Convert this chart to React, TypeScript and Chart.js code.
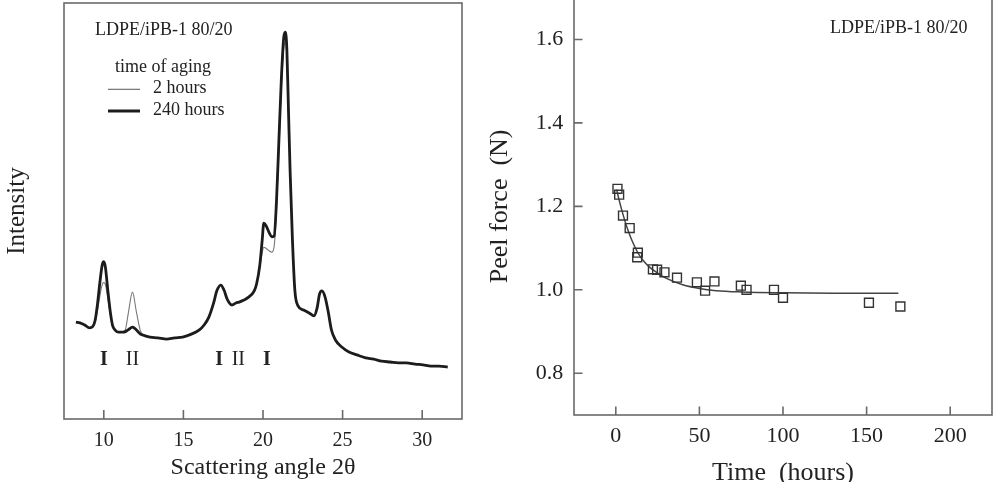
import React, { useEffect, useRef } from 'react';
import { Chart, registerables } from 'chart.js';

Chart.register(...registerables);

const SERIF = '"Liberation Serif", "DejaVu Serif", serif';
const INK = '#222';
const FRAME = '#6a6a6a';

// ---- Left panel: WAXS intensity vs scattering angle ----
const xrdAngle = [
  8.25, 8.5, 8.8, 9.1, 9.3, 9.45, 9.6, 9.75, 9.9, 10.0, 10.1, 10.25, 10.4, 10.55, 10.7, 10.9,
  11.2, 11.35, 11.55, 11.8, 12.05, 12.3, 12.6, 12.9, 13.4, 13.95, 14.45, 14.95, 15.5, 16.0,
  16.3, 16.6, 16.9, 17.1, 17.35, 17.55, 17.75, 18.05, 18.3, 18.5, 18.8, 19.1, 19.45, 19.6,
  19.8, 19.95, 20.05, 20.2, 20.4, 20.55, 20.7, 20.85, 21.0, 21.15, 21.3, 21.4, 21.5, 21.6,
  21.7, 21.85, 22.0, 22.2, 22.55, 22.9, 23.2, 23.4, 23.55, 23.7, 23.9, 24.1, 24.3, 24.55,
  24.95, 25.4, 25.9, 26.45, 26.95, 27.45, 28.0, 28.5, 29.0, 29.55, 30.05, 30.55, 31.05, 31.6,
];
const xrd240h = [
  23.3, 23.1, 22.6, 21.9, 22.2, 23.6, 27.5, 32.7, 37.0, 37.8, 36.5, 31.0, 26.0, 22.5, 21.4, 20.9,
  20.9, 21.0, 21.5, 22.1, 21.4, 20.4, 20.0, 19.7, 19.5, 19.2, 19.5, 19.7, 20.4, 21.4,
  22.6, 24.5, 27.9, 30.8, 32.2, 31.0, 28.8, 27.4, 27.9, 28.1, 28.6, 29.3, 30.8, 32.5,
  37.0, 43.0, 47.1, 46.4, 44.7, 43.8, 44.0, 52.6, 67.1, 81.5, 91.6, 93.0, 88.7, 74.3,
  59.9, 43.0, 31.0, 27.2, 26.2, 25.5, 24.8, 26.7, 30.0, 30.8, 29.3, 25.7, 21.4, 19.0,
  17.3, 16.1, 15.4, 14.7, 14.4, 13.9, 13.7, 13.5, 13.5, 13.2, 13.0, 12.7, 12.7, 12.5,
];
const xrd2h = [
  23.3, 23.1, 22.6, 21.9, 22.2, 23.3, 26.0, 29.5, 32.3, 32.8, 32.3, 29.0, 25.3, 22.4, 21.4, 20.9,
  20.9, 21.4, 25.7, 30.5, 25.7, 21.2, 20.0, 19.7, 19.5, 19.2, 19.5, 19.7, 20.4, 21.4,
  22.6, 24.5, 27.9, 30.8, 32.2, 31.0, 28.8, 27.4, 27.9, 28.1, 28.6, 29.3, 30.8, 32.5,
  36.5, 40.0, 41.3, 41.0, 40.4, 40.1, 41.5, 50.5, 65.0, 79.0, 89.0, 90.5, 87.0, 73.5,
  59.5, 43.0, 31.0, 27.2, 26.2, 25.5, 24.8, 26.7, 30.0, 30.8, 29.3, 25.7, 21.4, 19.0,
  17.3, 16.1, 15.4, 14.7, 14.4, 13.9, 13.7, 13.5, 13.5, 13.2, 13.0, 12.7, 12.7, 12.5,
];
const xrdTicks = [10, 15, 20, 25, 30];
const phaseLabels = ['I', 'II', 'I', 'II', 'I'];
const phaseAngles = [10.0, 11.8, 17.25, 18.45, 20.25];
const phaseBold = [true, false, true, false, true];
const phaseLabelLevel = 14.2;

// ---- Right panel: peel force vs time ----
const peelTime = [1, 2, 4.3, 8.3, 12.8, 13.2, 22.2, 24.7, 29.1, 36.6, 48.5, 53.4, 59, 74.8, 78.2, 94.6, 100, 151.4, 170.2];
const peelForce = [1.242, 1.228, 1.178, 1.148, 1.078, 1.089, 1.049, 1.048, 1.042, 1.029, 1.018, 0.998, 1.02, 1.01, 1.0, 1.0, 0.981, 0.969, 0.96];
const fitTime = [0.5, 2, 4, 6, 8, 10, 13, 16, 20, 25, 30, 40, 50, 60, 75, 100, 130, 169];
const fitForce = [1.24, 1.215, 1.185, 1.158, 1.135, 1.115, 1.09, 1.072, 1.055, 1.04, 1.028, 1.012, 1.003, 0.998, 0.995, 0.993, 0.992, 0.992];
const timeTicks = [0, 50, 100, 150, 200];
const forceTicks = [0.8, 1.0, 1.2, 1.4, 1.6];

const sampleTitle = 'LDPE/iPB-1 80/20';

function zeroPad(s: any) {
  s.paddingTop = 0;
  s.paddingBottom = 0;
  s.paddingLeft = 0;
  s.paddingRight = 0;
}

function framePlugin(tickLen: number, drawY: boolean) {
  return {
    id: 'frameTicks',
    afterDatasetsDraw(chart: any) {
      const { ctx, chartArea: a, scales } = chart;
      ctx.save();
      ctx.strokeStyle = FRAME;
      ctx.lineWidth = 1.6;
      ctx.strokeRect(a.left, a.top, a.right - a.left, a.bottom - a.top);
      ctx.beginPath();
      for (const t of scales.x.ticks) {
        const px = scales.x.getPixelForValue(t.value);
        ctx.moveTo(px, a.bottom);
        ctx.lineTo(px, a.bottom - tickLen);
      }
      if (drawY) {
        for (const t of scales.y.ticks) {
          const py = scales.y.getPixelForValue(t.value);
          ctx.moveTo(a.left, py);
          ctx.lineTo(a.left + tickLen, py);
        }
      }
      ctx.stroke();
      ctx.restore();
    },
  };
}

function LeftChart() {
  const ref = useRef<HTMLCanvasElement>(null);
  useEffect(() => {
    const annotate = {
      id: 'xrdText',
      afterDatasetsDraw(chart: any) {
        const { ctx, scales } = chart;
        ctx.save();
        ctx.fillStyle = INK;
        ctx.textBaseline = 'middle';
        ctx.textAlign = 'left';
        ctx.font = `18px ${SERIF}`;
        ctx.fillText(sampleTitle, 95, 30.6);
        ctx.fillText('time of aging', 115, 67.3);
        ctx.fillText('2 hours', 153, 88.5);
        ctx.fillText('240 hours', 153, 110.7);
        ctx.strokeStyle = '#666';
        ctx.lineWidth = 1.1;
        ctx.beginPath();
        ctx.moveTo(108, 89.3);
        ctx.lineTo(140, 89.3);
        ctx.stroke();
        ctx.strokeStyle = '#1c1c1c';
        ctx.lineWidth = 3;
        ctx.beginPath();
        ctx.moveTo(108, 111);
        ctx.lineTo(140, 111);
        ctx.stroke();
        ctx.textAlign = 'center';
        phaseLabels.forEach((lab, i) => {
          ctx.font = `${phaseBold[i] ? 'bold ' : ''}20px ${SERIF}`;
          ctx.fillText(lab, scales.x.getPixelForValue(phaseAngles[i]), scales.y.getPixelForValue(phaseLabelLevel));
        });
        ctx.restore();
      },
    };
    const chart = new Chart(ref.current!, {
      type: 'line',
      data: {
        datasets: [
          {
            label: '240 hours',
            data: xrdAngle.map((x, i) => ({ x, y: xrd240h[i] })),
            borderColor: '#1c1c1c',
            borderWidth: 2.8,
            pointRadius: 0,
            cubicInterpolationMode: 'monotone',
            order: 0,
          },
          {
            label: '2 hours',
            data: xrdAngle.map((x, i) => ({ x, y: xrd2h[i] })),
            borderColor: '#777',
            borderWidth: 1.1,
            pointRadius: 0,
            cubicInterpolationMode: 'monotone',
            order: 1,
          },
        ],
      },
      options: {
        responsive: false,
        animation: false,
        events: [],
        layout: { padding: { top: 3, right: 18, left: 0, bottom: 0 } },
        plugins: { legend: { display: false }, tooltip: { enabled: false } },
        scales: {
          x: {
            type: 'linear',
            min: 7.5,
            max: 32.5,
            afterBuildTicks: (s: any) => {
              s.ticks = xrdTicks.map((v) => ({ value: v }));
            },
            afterFit: (s: any) => {
              s.height = 71;
              zeroPad(s);
            },
            grid: { display: false, drawTicks: false },
            border: { display: false },
            ticks: { font: { family: SERIF, size: 20 }, color: INK, padding: 10, maxRotation: 0 },
            title: {
              display: true,
              text: 'Scattering angle 2θ',
              font: { family: SERIF, size: 24 },
              color: INK,
              padding: { top: 0, bottom: 7.6 },
            },
          },
          y: {
            type: 'linear',
            min: 0,
            max: 100,
            afterFit: (s: any) => {
              s.width = 64;
              zeroPad(s);
            },
            grid: { display: false, drawTicks: false },
            border: { display: false },
            ticks: { display: false },
            title: {
              display: true,
              text: 'Intensity',
              font: { family: SERIF, size: 25 },
              color: INK,
              padding: { top: 2, bottom: 0 },
            },
          },
        },
      },
      plugins: [framePlugin(9, false), annotate],
    } as any);
    return () => chart.destroy();
  }, []);
  return (
    <canvas
      ref={ref}
      width={480}
      height={490}
      style={{ position: 'absolute', left: 0, top: 0, width: 480, height: 490 }}
    />
  );
}

function RightChart() {
  const ref = useRef<HTMLCanvasElement>(null);
  useEffect(() => {
    const annotate = {
      id: 'peelText',
      afterDatasetsDraw(chart: any) {
        const { ctx } = chart;
        ctx.save();
        ctx.fillStyle = INK;
        ctx.textBaseline = 'middle';
        ctx.textAlign = 'left';
        ctx.font = `18px ${SERIF}`;
        ctx.fillText(sampleTitle, 350, 38);
        ctx.restore();
      },
    };
    const chart = new Chart(ref.current!, {
      type: 'scatter',
      data: {
        datasets: [
          {
            label: 'Peel force',
            data: peelTime.map((x, i) => ({ x, y: peelForce[i] })),
            pointStyle: 'rect',
            pointRadius: 6.3,
            borderWidth: 1.4,
            borderColor: '#333',
            backgroundColor: 'rgba(0,0,0,0)',
            showLine: false,
            order: 0,
          },
          {
            label: 'Fit',
            data: fitTime.map((x, i) => ({ x, y: fitForce[i] })),
            showLine: true,
            pointRadius: 0,
            borderColor: '#444',
            borderWidth: 1.5,
            cubicInterpolationMode: 'monotone',
            order: 1,
          },
        ],
      },
      options: {
        responsive: false,
        animation: false,
        events: [],
        layout: { padding: { top: 2, right: 11, left: 0, bottom: 0 } },
        plugins: { legend: { display: false }, tooltip: { enabled: false } },
        scales: {
          x: {
            type: 'linear',
            min: -25,
            max: 225,
            afterBuildTicks: (s: any) => {
              s.ticks = timeTicks.map((v) => ({ value: v }));
            },
            afterFit: (s: any) => {
              s.height = 81;
              zeroPad(s);
            },
            grid: { display: false, drawTicks: false },
            border: { display: false },
            ticks: { font: { family: SERIF, size: 22 }, color: INK, padding: 7.6, maxRotation: 0 },
            title: {
              display: true,
              text: 'Time  (hours)',
              font: { family: SERIF, size: 26 },
              color: INK,
              padding: { top: 0, bottom: 7 },
            },
          },
          y: {
            type: 'linear',
            min: 0.7,
            max: 1.7,
            afterBuildTicks: (s: any) => {
              s.ticks = forceTicks.map((v) => ({ value: v }));
            },
            afterFit: (s: any) => {
              s.width = 94;
              zeroPad(s);
            },
            grid: { display: false, drawTicks: false },
            border: { display: false },
            ticks: {
              font: { family: SERIF, size: 22 },
              color: INK,
              padding: 10.7,
              callback: (v: any) => Number(v).toFixed(1),
            },
            title: {
              display: true,
              text: 'Peel force  (N)',
              font: { family: SERIF, size: 26 },
              color: INK,
              padding: { top: 4.4, bottom: 0 },
            },
          },
        },
      },
      plugins: [framePlugin(8.5, true), annotate],
    } as any);
    return () => chart.destroy();
  }, []);
  return (
    <canvas
      ref={ref}
      width={523}
      height={506}
      style={{ position: 'absolute', left: 480, top: -10, width: 523, height: 506 }}
    />
  );
}

export default function App() {
  return (
    <div
      style={{
        position: 'fixed',
        left: 0,
        top: 0,
        width: 1003,
        height: 482,
        overflow: 'hidden',
        background: '#fff',
      }}
    >
      <LeftChart />
      <RightChart />
    </div>
  );
}
